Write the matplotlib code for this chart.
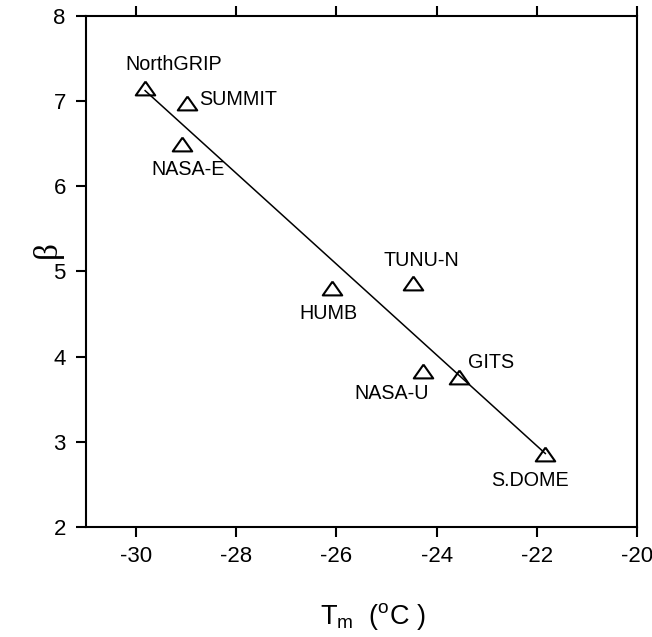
import numpy as np
import matplotlib
matplotlib.use("Agg")
import matplotlib.pyplot as plt

plt.rcParams['font.family'] = ['Liberation Sans', 'DejaVu Sans']
plt.rcParams['mathtext.default'] = 'regular'
plt.rcParams['axes.unicode_minus'] = False

# site data
sites = ['NorthGRIP', 'SUMMIT', 'NASA-E', 'HUMB', 'TUNU-N', 'NASA-U', 'GITS', 'S.DOME']
tm = [-29.82, -28.99, -29.08, -26.09, -24.47, -24.28, -23.55, -21.83]
beta = [7.15, 6.98, 6.50, 4.81, 4.86, 3.83, 3.76, 2.86]

# label offsets in pixels (dx, dy) relative to the marker
label_off = [(29, 24), (12, 3), (6, -26), (-4, -26), (8, 23), (-31, -22), (32, 15), (-15, -27)]
label_ha = ['center', 'left', 'center', 'center', 'center', 'center', 'center', 'center']

xticks = [-30, -28, -26, -24, -22, -20]
yticks = [2, 3, 4, 5, 6, 7, 8]

fig = plt.figure(figsize=(6.52, 6.37), dpi=100)
ax = fig.add_axes([0.1319, 0.1727, 0.8451, 0.8022])

# linear fit across the sites
m, b = np.polyfit(tm, beta, 1)
xs = np.array([min(tm), max(tm)])
ax.plot(xs, m * xs + b, color='black', lw=1.1, zorder=2)

tri = [(0, 0.71), (-1, -0.71), (1, -0.71), (0, 0.71)]
ax.plot(tm, beta, linestyle='none', marker=tri, markersize=14,
        markerfacecolor='none', markeredgecolor='black', markeredgewidth=1.5, zorder=3)

for name, x, y, (dx, dy), ha in zip(sites, tm, beta, label_off, label_ha):
    ax.annotate(name, (x, y), xytext=(dx, dy), textcoords='offset pixels',
                ha=ha, va='center', fontsize=14.2)

ax.set_xlim(-31, -20)
ax.set_ylim(2, 8)
ax.set_xticks(xticks)
ax.set_yticks(yticks)
ax.tick_params(axis='both', direction='out', length=7.5, width=1.5, labelsize=16)
ax.tick_params(axis='x', top=True, pad=6.5)
ax.tick_params(axis='y', pad=7)
for s in ax.spines.values():
    s.set_linewidth(1.5)

ax.set_xlabel('T$_{m}$  ($^{o}$C )', fontsize=19.5)
ax.xaxis.set_label_coords(0.521, -0.176)
ax.xaxis.label.set_va('center')
ax.set_ylabel('β', fontsize=24, family='Liberation Serif')
ax.yaxis.set_label_coords(-0.071, 0.542)
ax.yaxis.label.set_va('center')

fig.savefig('out.png', dpi=100)
